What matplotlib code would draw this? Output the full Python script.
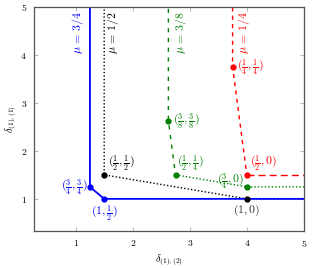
import numpy as np
import matplotlib.pyplot as plt

plt.rcParams['mathtext.fontset'] = 'cm'
plt.rcParams['font.family'] = 'serif'
plt.rcParams['font.serif'] = ['cmr10', 'DejaVu Serif']
plt.rcParams['axes.formatter.use_mathtext'] = True

# mu = 3/4 (blue, solid)
blue_x = [1.25, 1.25, 1.5, 5.5]
blue_y = [5.5, 1.25, 1.0, 1.0]
blue_pts_x = [1.25, 1.5]
blue_pts_y = [1.25, 1.0]

# mu = 1/2 (black, dotted)
black_x = [1.5, 1.5, 4.0, 5.5]
black_y = [5.5, 1.5, 1.0, 1.0]
black_pts_x = [1.5, 4.0]
black_pts_y = [1.5, 1.0]

# mu = 3/8 (green)
green_dash_x = [2.625, 2.625, 2.75]
green_dash_y = [5.5, 2.625, 1.5]
green_dot_x = [2.75, 4.0, 5.5]
green_dot_y = [1.5, 1.25, 1.25]
green_pts_x = [2.625, 2.75, 4.0]
green_pts_y = [2.625, 1.5, 1.25]

# mu = 1/4 (red)
red_x = [3.75, 3.75, 4.0]
red_y = [5.5, 3.75, 1.5]
red_h_x = [4.0, 5.5]
red_h_y = [1.5, 1.5]
red_pts_x = [3.75, 4.0]
red_pts_y = [3.75, 1.5]

green = '#008000'
fig = plt.figure(figsize=(3.12, 2.68), dpi=100)
ax = fig.add_axes([0.109, 0.138, 0.865, 0.836])

ax.plot(black_x, black_y, color='black', lw=1.0, ls=(0, (1, 1.5)))
ax.plot(green_dash_x, green_dash_y, color=green, lw=1.0, ls=(0, (3, 4)))
ax.plot(green_dot_x, green_dot_y, color=green, lw=1.0, ls=(0, (1, 1.5)))
ax.plot(red_x, red_y, color='red', lw=1.0, ls=(0, (3, 3)))
ax.plot(red_h_x, red_h_y, color='red', lw=1.0, ls=(0, (5, 3)))
ax.plot(blue_x, blue_y, color='blue', lw=1.3)

ms = 3.5
ax.plot(black_pts_x, black_pts_y, 'o', color='black', ms=ms)
ax.plot(green_pts_x, green_pts_y, 'o', color=green, ms=ms)
ax.plot(red_pts_x, red_pts_y, 'o', color='red', ms=ms)
ax.plot(blue_pts_x, blue_pts_y, 'o', color='blue', ms=ms)

fs = 8.5
off = dict(textcoords='offset points', fontsize=fs)
ax.annotate(r'$(\frac{3}{4},\frac{3}{4})$', (1.25, 1.25), xytext=(-2, 0), ha='right', va='center', color='blue', **off)
ax.annotate(r'$(1,\frac{1}{2})$', (1.5, 1.0), xytext=(0, -3), ha='center', va='top', color='blue', **off)
ax.annotate(r'$(\frac{1}{2},\frac{1}{2})$', (1.5, 1.5), xytext=(3, 1), ha='left', va='bottom', color='black', **off)
ax.annotate(r'$(1,0)$', (4.0, 1.0), xytext=(0, -3), ha='center', va='top', color='#333333', **off)
ax.annotate(r'$(\frac{3}{8},\frac{3}{8})$', (2.625, 2.625), xytext=(3, 0), ha='left', va='center', color=green, **off)
ax.annotate(r'$(\frac{1}{2},\frac{1}{4})$', (2.75, 1.5), xytext=(1, 1), ha='left', va='bottom', color=green, **off)
ax.annotate(r'$(\frac{3}{4},0)$', (4.0, 1.25), xytext=(-2, -3), ha='right', va='bottom', color=green, **off)
ax.annotate(r'$(\frac{1}{2},0)$', (4.0, 1.5), xytext=(2, 1), ha='left', va='bottom', color='red', **off)
ax.annotate(r'$(\frac{1}{4},\frac{1}{4})$', (3.75, 3.75), xytext=(3, 0), ha='left', va='center', color='red', **off)

ax.text(1.04, 4.47, r'$\mu\,=\,3/4$', rotation=90, ha='center', va='center', color='blue', fontsize=fs)
ax.text(1.66, 4.47, r'$\mu\,=\,1/2$', rotation=90, ha='center', va='center', color='black', fontsize=fs)
ax.text(2.84, 4.47, r'$\mu\,=\,3/8$', rotation=90, ha='center', va='center', color=green, fontsize=fs)
ax.text(3.95, 4.47, r'$\mu\,=\,1/4$', rotation=90, ha='center', va='center', color='red', fontsize=fs)

ax.set_xlim(0.27, 5)
ax.set_ylim(0.33, 5)
ax.set_xticks([1, 2, 3, 4, 5])
ax.set_yticks([1, 2, 3, 4, 5])
ax.tick_params(direction='in', length=3, color='#bbbbbb', labelsize=7, top=True, right=True, pad=5)
for s in ax.spines.values():
    s.set_color('#555555')
    s.set_linewidth(0.9)
ax.set_xlabel(r'$\delta_{(1),(2)}$', fontsize=7.5, labelpad=2)
ax.set_ylabel(r'$\delta_{(1),(1)}$', fontsize=7.5, labelpad=2)

fig.savefig('out.png', dpi=100)
